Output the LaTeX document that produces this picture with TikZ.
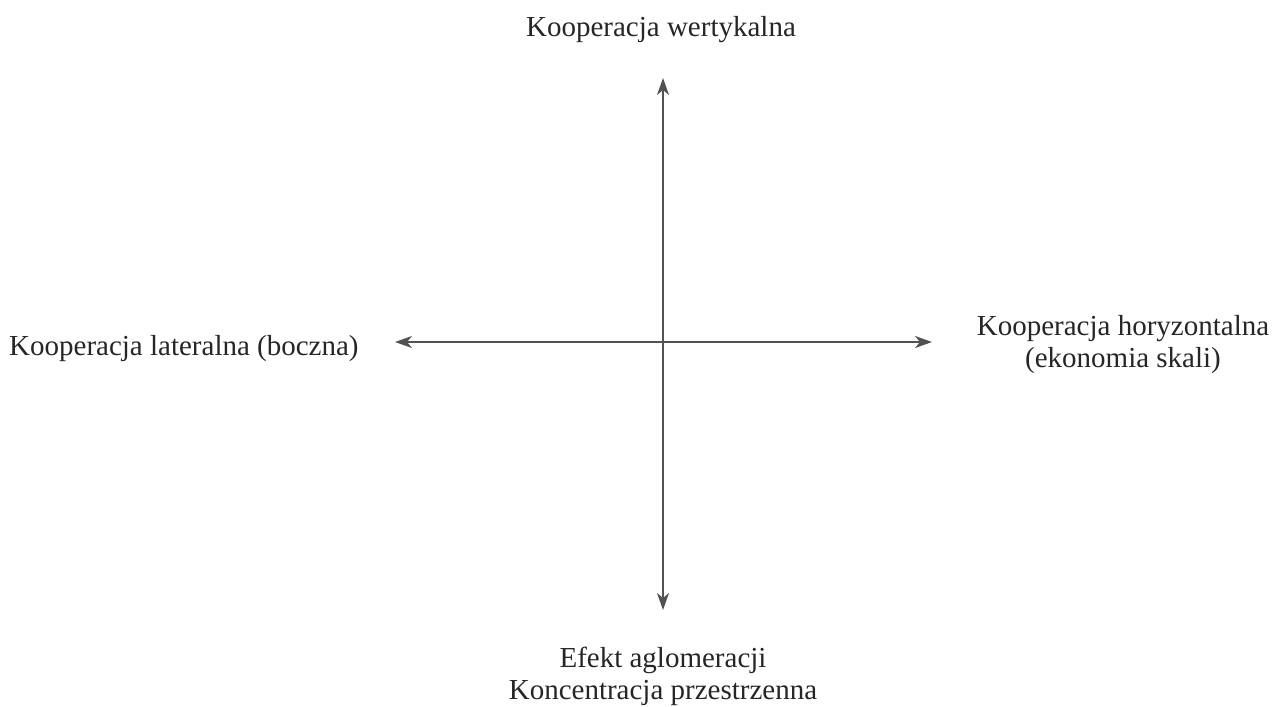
\documentclass[tikz,border=0pt]{standalone}
\usepackage{fontspec}
\setmainfont{Liberation Serif}
\usetikzlibrary{arrows.meta}
\begin{document}
\begin{tikzpicture}[x=1pt,y=-1pt,
  axis/.style={draw=black!68,line width=1.5pt,-{Stealth[length=17pt,width=12pt,inset=5pt]}},
  lbl/.style={text=black!85,font=\fontsize{29}{32}\selectfont,align=center,inner sep=0pt}]
\useasboundingbox (0,0) rectangle (1275,707);
\coordinate (c) at (663,342);
\coordinate (top) at (663,78);
\coordinate (bot) at (663,610);
\coordinate (lft) at (395,342);
\coordinate (rgt) at (932,342);
\draw[axis] (c) -- (top);
\draw[axis] (c) -- (bot);
\draw[axis] (c) -- (lft);
\draw[axis] (c) -- (rgt);
\node[lbl,anchor=base] (t) at (661,36) {Kooperacja wertykalna};
\node[lbl,anchor=base west] (l) at (9,355) {Kooperacja lateralna (boczna)};
\node[lbl,anchor=base] (r) at (1123,367) {Kooperacja horyzontalna\\(ekonomia skali)};
\node[lbl,anchor=base] (b) at (663,699) {Efekt aglomeracji\\Koncentracja przestrzenna};
\end{tikzpicture}
\end{document}
